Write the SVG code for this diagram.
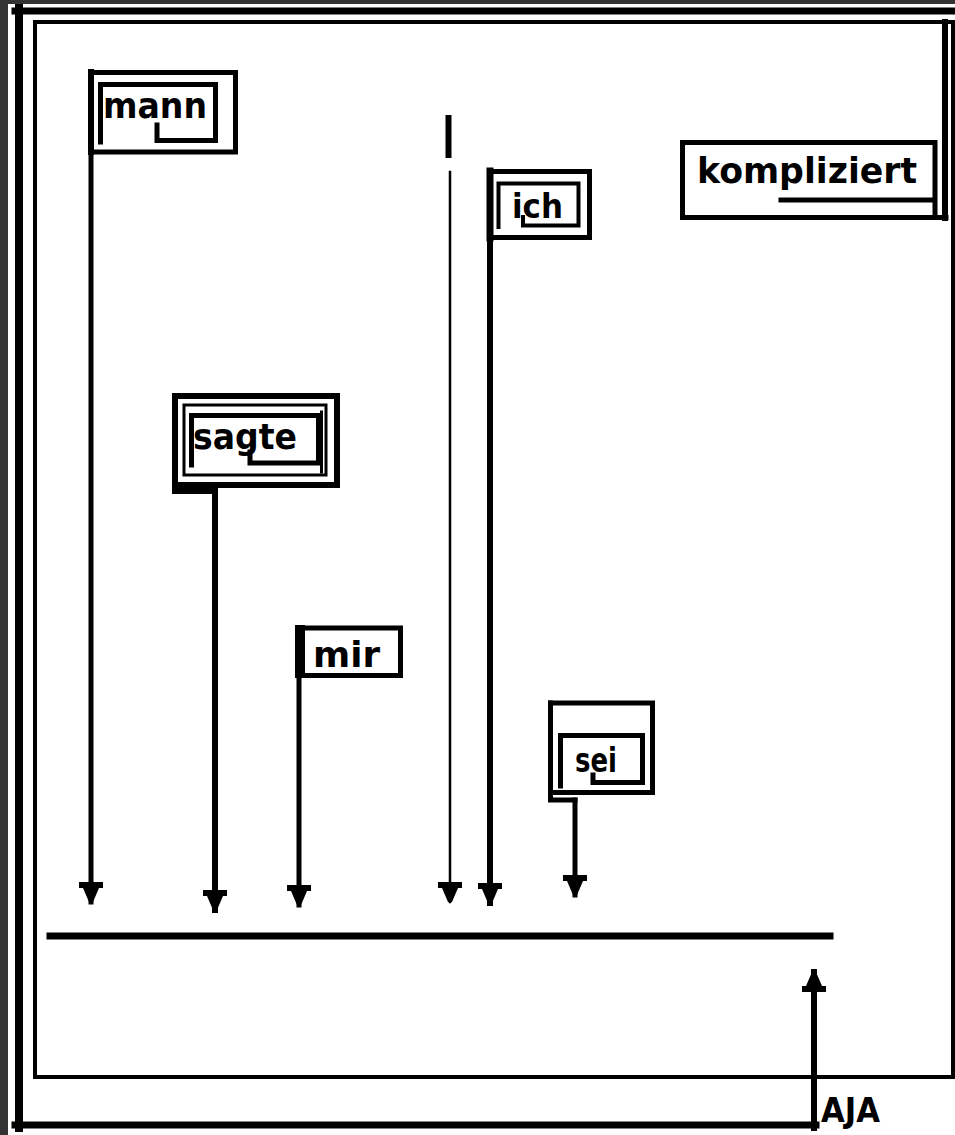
<svg xmlns="http://www.w3.org/2000/svg" width="955" height="1135" viewBox="0 0 955 1135">
<defs>
<style>
.k{fill:none;stroke:#000;stroke-linecap:square;stroke-linejoin:miter}
.t{font-family:"DejaVu Sans","Liberation Sans",sans-serif;font-weight:bold;font-size:36px;fill:#000}
.s{font-size:34px}
</style>
<marker id="ah" markerUnits="userSpaceOnUse" markerWidth="26" markerHeight="26" viewBox="-13 -13 26 26" refX="10" refY="0" orient="auto">
<path d="M-10,-12 L-4,-12 L-4,-8 L10,-2 L10,2 L-4,8 L-4,12 L-10,12 Z" fill="#000"/>
</marker>
</defs>
<rect x="0" y="0" width="955" height="1135" fill="#333"/>
<rect x="8" y="4" width="947" height="1131" fill="#fff"/>
<g id="frame">
<path class="k" d="M15,11 H955" stroke-width="7"/>
<path class="k" d="M19,8 V1128" stroke-width="8"/>
<path class="k" d="M15,1125 H816" stroke-width="7"/>
<path class="k" d="M35,22 H953 V1077 H35 Z" stroke-width="4"/>
</g>
<g id="mann">
<path class="k" d="M91,72.5 H235.5 V152 H91 Z" stroke-width="5"/>
<path class="k" d="M91,72 V152" stroke-width="6"/>
<path class="k" d="M157,125 V140.5 H215.5 V84.5 H100.5 V142" stroke-width="5"/>
<text class="t" x="103" y="118" textLength="104" lengthAdjust="spacingAndGlyphs">mann</text>
</g>
<g id="sagte">
<path class="k" d="M175,396 H337 V485 H175 Z" stroke-width="6"/>
<path class="k" d="M175,396 V491 H215" stroke-width="6"/>
<path class="k" d="M184,405 H326 V475 H184 Z" stroke-width="3"/>
<path class="k" d="M321.5,412 V472" stroke-width="3"/>
<path class="k" d="M250,452 V463 H318.5 V415.5 H191.5 V465" stroke-width="5"/>
<text class="t" x="193" y="449" textLength="104" lengthAdjust="spacingAndGlyphs">sagte</text>
</g>
<g id="mir">
<path class="k" d="M299,628 H400.5 V675.5 H299 Z" stroke-width="5"/>
<rect x="295" y="625" width="10" height="53" fill="#000"/>
<text class="t" x="313" y="667" textLength="67" lengthAdjust="spacingAndGlyphs">mir</text>
</g>
<g id="ich">
<path class="k" d="M490,171.5 H589.5 V237.5 H490 Z" stroke-width="5"/>
<path class="k" d="M490,171 V238" stroke-width="7"/>
<path class="k" d="M523,217 V225.5 H578.5 V183.5 H498.5 V227" stroke-width="4"/>
<text class="t s" x="512" y="218" textLength="51" lengthAdjust="spacingAndGlyphs">ich</text>
</g>
<g id="sei">
<path class="k" d="M550.5,703 H652.5 V792.5 H550.5 Z" stroke-width="5"/>
<path class="k" d="M550.5,703 V800 H575" stroke-width="5"/>
<path class="k" d="M593,775 V782.5 H642.5 V735.5 H560.5 V786" stroke-width="5"/>
<text class="t s" x="575" y="772" textLength="42" lengthAdjust="spacingAndGlyphs">sei</text>
</g>
<g id="kompliziert">
<path class="k" d="M682.5,142.5 H935 V217.5 H682.5 Z" stroke-width="5"/>
<path class="k" d="M682.5,217.5 H946" stroke-width="5"/>
<path class="k" d="M945,22 V218" stroke-width="6"/>
<path class="k" d="M781,200 H933" stroke-width="5"/>
<text class="t" x="697" y="183" textLength="220" lengthAdjust="spacingAndGlyphs">kompliziert</text>
</g>
<g id="AJA">
<text class="t s" x="821" y="1122" textLength="59" lengthAdjust="spacingAndGlyphs">AJA</text>
</g>
<g id="connectors">
<path class="k" d="M50,936 H830" stroke-width="7" stroke-linecap="butt"/>
<path class="k" d="M91,152 V902" stroke-width="5" stroke-linecap="butt" marker-end="url(#ah)"/>
<path class="k" d="M215,488 V910" stroke-width="6" stroke-linecap="butt" marker-end="url(#ah)"/>
<path class="k" d="M299,676 V905" stroke-width="5" stroke-linecap="butt" marker-end="url(#ah)"/>
<path class="k" d="M448.5,118 V155" stroke-width="6" stroke-linecap="butt"/>
<path class="k" d="M450,172 V902" stroke-width="2.5" stroke-linecap="butt" marker-end="url(#ah)"/>
<path class="k" d="M490,238 V903" stroke-width="6" stroke-linecap="butt" marker-end="url(#ah)"/>
<path class="k" d="M575,800 V895" stroke-width="5" stroke-linecap="butt" marker-end="url(#ah)"/>
<path class="k" d="M814,1128 V972" stroke-width="6" stroke-linecap="butt" marker-end="url(#ah)"/>
</g>
</svg>
